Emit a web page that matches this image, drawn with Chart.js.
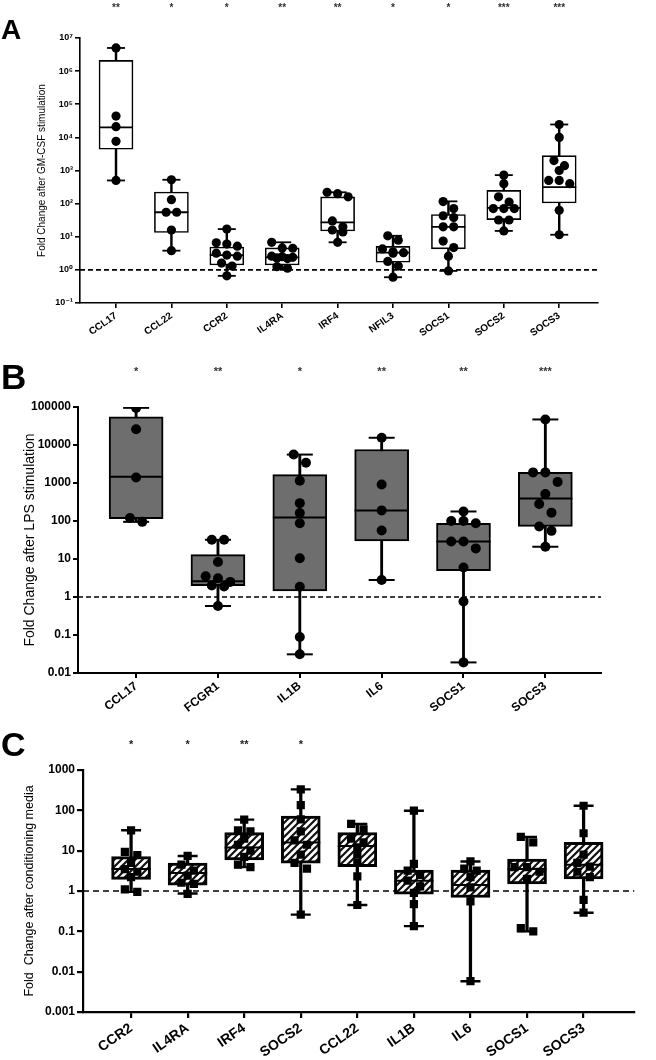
<!DOCTYPE html>
<html>
<head>
<meta charset="utf-8">
<script src="https://cdn.jsdelivr.net/npm/chart.js@4.4.1/dist/chart.umd.min.js"></script>
<style>
  body { margin: 0; background: #fff; }
  #wrap { position: relative; width: 656px; height: 1060px; overflow: hidden; }
  canvas { position: absolute; left: 0; }
  .letter { position: absolute; font-family: Arial, "Liberation Sans", sans-serif; font-weight: bold; line-height: 1; color: #000; }
</style>
</head>
<body>
<div id="wrap">
  <canvas id="chartA" width="656" height="340" style="top:0px"></canvas>
  <canvas id="chartB" width="656" height="375" style="top:340px"></canvas>
  <canvas id="chartC" width="656" height="345" style="top:715px"></canvas>
  <div class="letter" style="left:1px;top:16px;font-size:28px">A</div>
  <div class="letter" style="left:1px;top:359px;font-size:35px">B</div>
  <div class="letter" style="left:1px;top:727px;font-size:34px">C</div>
</div>
<script>
// PANEL A - GM-CSF
const catsA = ['CCL17','CCL22','CCR2','IL4RA','IRF4','NFIL3','SOCS1','SOCS2','SOCS3']
const starsA = ['**','*','*','**','**','*','*','***','***']
const ticksA = [0.1, 1, 10, 100, 1e3, 1e4, 1e5, 1e6, 1e7]
const tickLabelsA = ['10⁻¹','10⁰','10¹','10²','10³','10⁴','10⁵','10⁶','10⁷']
const minA = [500, 3.8, 0.66, 1.12, 6.8, 0.6, 0.93, 15, 11.5]
const q1A = [4400, 13.5, 1.4, 1.4, 15, 1.7, 4.3, 33, 105]
const medA = [20000, 55, 2.8, 2.4, 27, 3.3, 20, 74, 316]
const q3A = [2.1e6, 224, 4.9, 4.6, 160, 5.1, 47, 250, 2800]
const maxA = [5e6, 525, 17, 6.8, 220, 10.7, 117, 725, 24500]
const dotsA = [
  [5e6, 44000, 21000, 7600, 500],
  [525, 132, 55, 55, 16, 3.8],
  [17, 6.6, 6.0, 5.2, 3.2, 2.8, 2.6, 1.6, 1.3, 0.66],
  [6.8, 4.6, 4.5, 2.6, 2.5, 2.4, 2.3, 2.2, 1.25, 1.12],
  [220, 200, 160, 30, 20, 16, 14, 6.8],
  [10.7, 7.9, 4.3, 3.5, 3.3, 3.2, 1.8, 1.3, 0.6],
  [115, 71, 43, 38, 20, 20, 7.4, 4.7, 2.6, 0.93],
  [725, 400, 160, 112, 71, 71, 71, 32, 32, 15],
  [24500, 10000, 2000, 1400, 1000, 500, 500, 400, 63, 11.5]
]

// PANEL B - LPS
const catsB = ['CCL17','FCGR1','IL1B','IL6','SOCS1','SOCS3']
const starsB = ['*','**','*','**','**','***']
const ticksB = [0.01, 0.1, 1, 10, 100, 1000, 10000, 100000]
const tickLabelsB = ['0.01','0.1','1','10','100','1000','10000','100000']
const minB = [95, 0.58, 0.031, 2.8, 0.019, 21]
const q1B = [115, 2.0, 1.45, 30, 4.9, 72]
const medB = [1450, 2.6, 123, 190, 29, 390]
const q3B = [55000, 13, 1660, 7600, 87, 1900]
const maxB = [95000, 32, 5600, 15500, 178, 47000]
const dotsB = [
  [95000, 26000, 1400, 120, 95],
  [32, 32, 8.3, 3.5, 3.1, 2.5, 2.0, 1.9, 0.58],
  [5600, 3400, 1150, 295, 162, 87, 10.5, 1.86, 0.089, 0.031],
  [15500, 910, 190, 56, 2.8],
  [178, 100, 100, 87, 29, 29, 19, 6.0, 0.76, 0.019],
  [47000, 1900, 1900, 1070, 510, 280, 166, 72, 55, 21]
]

// PANEL C - conditioning media
const catsC = ['CCR2','IL4RA','IRF4','SOCS2','CCL22','IL1B','IL6','SOCS1','SOCS3']
const starsC = ['*','*','**','*','','','','','']
const ticksC = [0.001, 0.01, 0.1, 1, 10, 100, 1000]
const tickLabelsC = ['0.001','0.01','0.1','1','10','100','1000']
const minC = [0.95, 0.87, 3.9, 0.26, 0.45, 0.135, 0.0058, 0.1, 0.29]
const q1C = [1.95, 1.4, 5.9, 4.9, 4.0, 0.83, 0.69, 1.5, 2.0]
const medC = [3.5, 2.8, 12, 16, 13, 1.8, 1.4, 3.5, 4.5]
const q3C = [7.1, 4.9, 28, 72, 28, 3.3, 3.3, 6.2, 16]
const maxC = [32, 7.4, 59, 330, 46, 98, 5.4, 22, 130]
const dotsC = [
  [32, 9.3, 7.8, 5, 3.5, 3.0, 2.2, 1.1, 0.95],
  [7.4, 4.5, 3.2, 2.4, 1.6, 1.5, 0.85],
  [59, 32, 30, 20, 14, 10, 7, 4.5, 3.9],
  [330, 135, 60, 30, 18, 14, 8, 5, 3.6, 0.26],
  [46, 34, 20, 16, 12, 8, 5, 2.3, 0.45],
  [98, 4.7, 3.2, 2.5, 1.8, 1.3, 0.9, 0.47, 0.135],
  [5.4, 3.6, 3.2, 2.2, 1.23, 0.55, 0.0058],
  [22, 16, 3.9, 3.9, 3.0, 2.0, 0.12, 0.1],
  [130, 27, 8, 5, 4, 3, 2.2, 0.6, 0.29]
]

Chart.defaults.font.family = 'Arial, "Liberation Sans", "DejaVu Sans", sans-serif'

// puts dots that are close in value side by side (max 3 per row)
function spread(vals, tol, dx) {
  const sorted = vals.slice().sort((a, b) => b - a)
  const rows = []
  sorted.forEach(v => {
    const last = rows[rows.length - 1]
    if (last && last.length < 3 && Math.log10(last[0]) - Math.log10(v) < tol) last.push(v)
    else rows.push([v])
  })
  const out = []
  rows.forEach(r => r.forEach((v, j) => out.push({ dx: (j - (r.length - 1) / 2) * dx, v })))
  return out
}

function hatch(canvasId) {
  const c = document.createElement('canvas')
  c.width = 7; c.height = 7
  const g = c.getContext('2d')
  g.fillStyle = '#fff'; g.fillRect(0, 0, 7, 7)
  g.strokeStyle = '#111'; g.lineWidth = 2.2
  g.beginPath()
  g.moveTo(0, 7); g.lineTo(7, 0)
  g.moveTo(-1, 1); g.lineTo(1, -1)
  g.moveTo(6, 8); g.lineTo(8, 6)
  g.stroke()
  return document.getElementById(canvasId).getContext('2d').createPattern(c, 'repeat')
}

function buildPanel(canvasId, p) {
  const idx = p.cats.map((_, i) => i)
  const dots = []
  p.dots.forEach((vals, i) => spread(vals, p.tol, p.dx).forEach(d => dots.push({ x: i + d.dx, y: d.v })))
  const catTicks = s => { s.ticks = idx.map(i => ({ value: i })) }

  return new Chart(document.getElementById(canvasId), {
    type: 'scatter',
    data: {
      datasets: [
        { type: 'line', data: [{ x: p.xMin, y: 1 }, { x: p.xMax, y: 1 }], borderColor: '#000', borderWidth: p.dashW, borderDash: p.dash, pointRadius: 0, order: 6 },
        { type: 'bar', data: idx.map(i => ({ x: i, y: [p.min[i], p.max[i]] })), backgroundColor: '#000', barThickness: p.whiskerW, grouped: false, order: 5 },
        { type: 'bar', data: idx.map(i => ({ x: i, y: [p.q1[i], p.q3[i]] })), backgroundColor: p.fill, borderColor: '#000', borderWidth: p.boxBorder, borderSkipped: false, barThickness: p.boxW, grouped: false, order: 4 },
        { data: idx.map(i => ({ x: i, y: p.med[i] })), pointStyle: 'line', pointRadius: p.boxW / 2, pointBorderColor: '#000', pointBorderWidth: p.medW, order: 3 },
        { data: idx.flatMap(i => [{ x: i, y: p.min[i] }, { x: i, y: p.max[i] }]), pointStyle: 'line', pointRadius: p.capR, pointBorderColor: '#000', pointBorderWidth: p.capW, order: 2 },
        { data: dots, pointStyle: p.dotStyle, pointRadius: p.dotR, pointBackgroundColor: '#000', pointBorderColor: '#000', pointBorderWidth: 0, order: 1 }
      ]
    },
    options: {
      responsive: false,
      animation: false,
      events: [],
      layout: { padding: { left: 0, right: p.padRight, top: 0, bottom: 0 } },
      plugins: { legend: { display: false }, tooltip: { enabled: false } },
      scales: {
        x: {
          type: 'linear', min: p.xMin, max: p.xMax, offset: false,
          afterBuildTicks: catTicks,
          afterFit: s => { s.height = p.xAxisH },
          ticks: { callback: v => p.cats[v], autoSkip: false, minRotation: p.rot, maxRotation: p.rot, padding: p.xPad, color: '#000', font: { size: p.xFont, weight: 'bold' } },
          grid: { drawOnChartArea: false, tickLength: p.tickLen, color: '#000', lineWidth: p.axisW, offset: false },
          border: { color: '#000', width: p.axisW }
        },
        top: {
          type: 'linear', position: 'top', min: p.xMin, max: p.xMax, offset: false,
          afterBuildTicks: catTicks,
          afterFit: s => { s.height = p.topH },
          ticks: { callback: v => p.stars[v], autoSkip: false, maxRotation: 0, padding: p.starPad, color: p.starColor, font: { size: p.starFont, weight: 'bold' } },
          grid: { display: false, drawTicks: false },
          border: { display: false }
        },
        y: {
          type: 'logarithmic', min: p.ticks[0], max: p.ticks[p.ticks.length - 1],
          afterBuildTicks: s => { s.ticks = p.ticks.map(v => ({ value: v })) },
          afterFit: s => { s.width = p.yAxisW },
          ticks: { callback: (v, i) => p.tickLabels[i], padding: p.yPad, color: '#000', font: { size: p.yFont, weight: 'bold' } },
          grid: { drawOnChartArea: false, tickLength: p.tickLen, color: '#000', lineWidth: p.axisW },
          border: { color: '#000', width: p.axisW },
          title: { display: true, text: p.title, color: '#000', font: { size: p.titleFont }, padding: { top: p.titlePad, bottom: 0 } }
        }
      }
    }
  })
}

buildPanel('chartA', {
  cats: catsA, stars: starsA, ticks: ticksA, tickLabels: tickLabelsA,
  min: minA, q1: q1A, med: medA, q3: q3A, max: maxA, dots: dotsA,
  xMin: -0.65, xMax: 8.7, padRight: 58, yAxisW: 80, xAxisH: 37, topH: 38,
  title: 'Fold Change after GM-CSF stimulation', titleFont: 10, titlePad: 36,
  yFont: 9, xFont: 10, rot: 35, xPad: 2, yPad: 2, tickLen: 5, axisW: 1.6,
  starFont: 10, starPad: 24, starColor: '#333',
  fill: '#fff', boxW: 34, boxBorder: 1.6, whiskerW: 1.8, capR: 9, capW: 1.8, medW: 1.8,
  dash: [5, 3], dashW: 1.6, dotStyle: 'circle', dotR: 4.6, tol: 0.24, dx: 0.19
})

buildPanel('chartB', {
  cats: catsB, stars: starsB, ticks: ticksB, tickLabels: tickLabelsB,
  min: minB, q1: q1B, med: medB, q3: q3B, max: maxB, dots: dotsB,
  xMin: -0.71, xMax: 5.68, padRight: 55, yAxisW: 78, xAxisH: 42, topH: 67,
  title: 'Fold Change after LPS stimulation', titleFont: 14, titlePad: 22,
  yFont: 12, xFont: 12, rot: 38, xPad: 1, yPad: 2, tickLen: 5, axisW: 2,
  starFont: 11, starPad: 28, starColor: '#333',
  fill: '#6e6e6e', boxW: 54, boxBorder: 2, whiskerW: 2.2, capR: 13, capW: 2, medW: 2,
  dash: [5, 3], dashW: 1.6, dotStyle: 'circle', dotR: 5, tol: 0.25, dx: 0.15
})

buildPanel('chartC', {
  cats: catsC, stars: starsC, ticks: ticksC, tickLabels: tickLabelsC,
  min: minC, q1: q1C, med: medC, q3: q3C, max: maxC, dots: dotsC,
  xMin: -0.85, xMax: 8.9, padRight: 0, yAxisW: 83, xAxisH: 48, topH: 55,
  title: 'Fold  Change after conditioning media', titleFont: 12.5, titlePad: 22,
  yFont: 12, xFont: 14, rot: 35, xPad: 2, yPad: 2, tickLen: 6, axisW: 2.2,
  starFont: 11, starPad: 18, starColor: '#222',
  fill: hatch('chartC'), boxW: 39, boxBorder: 3, whiskerW: 2.6, capR: 10, capW: 2.4, medW: 2,
  dash: [6, 4], dashW: 1.6, dotStyle: 'rect', dotR: 5.8, tol: 0.15, dx: 0.22
})
</script>
</body>
</html>
